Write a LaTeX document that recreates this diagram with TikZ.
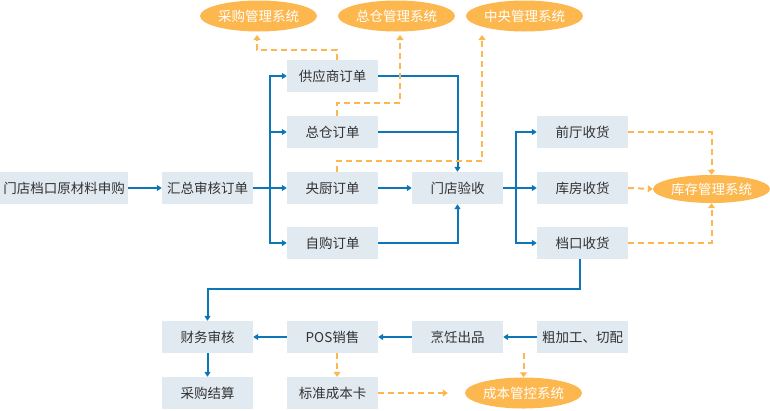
\documentclass[tikz,border=0pt]{standalone}
\usepackage{fontspec}
\newfontfamily\cjk{Noto Sans CJK SC}
\usetikzlibrary{arrows.meta,shapes.geometric}
\definecolor{boxc}{HTML}{E1E9F1}
\definecolor{blc}{HTML}{0B77B6}
\definecolor{orc}{HTML}{FDB74F}
\definecolor{txt}{HTML}{333333}
\begin{document}
\begin{tikzpicture}[x=1pt,y=-1pt,
  box/.style={fill=boxc, minimum width=91pt, minimum height=32pt, inner sep=0pt, text=txt, font=\cjk\fontsize{13.5}{14}\selectfont},
  sys/.style={ellipse, fill=orc, minimum width=117pt, minimum height=31pt, inner sep=0pt, text=white, font=\cjk\fontsize{13.5}{14}\selectfont},
  bl/.style={draw=blc, line width=2pt, -{Triangle[length=5pt,width=6pt]}},
  blline/.style={draw=blc, line width=2pt},
  od/.style={draw=orc, line width=2pt, dash pattern=on 6pt off 4pt, -{Triangle[length=5pt,width=7pt]}}]
\useasboundingbox (0,0) rectangle (770,410);
% boxes
\node[box, minimum width=128pt] (req) at (64,188) {门店档口原材料申购};
\node[box] (sum) at (207.5,188) {汇总审核订单};
\node[box] (gys) at (332.5,76) {供应商订单};
\node[box] (zc) at (332.5,132) {总仓订单};
\node[box] (yc) at (332.5,188) {央厨订单};
\node[box] (zg) at (332.5,243) {自购订单};
\node[box] (ys) at (457.5,188) {门店验收};
\node[box] (qt) at (582.5,132) {前厅收货};
\node[box] (kf) at (582.5,188) {库房收货};
\node[box] (dk) at (582.5,243) {档口收货};
\node[box] (cw) at (207.5,337) {财务审核};
\node[box] (pos) at (332.5,337) {POS销售};
\node[box] (pr) at (457.5,337) {烹饪出品};
\node[box] (cj) at (582.5,337) {粗加工、切配};
\node[box] (js) at (207.5,393) {采购结算};
\node[box] (bz) at (332.5,393) {标准成本卡};
% systems
\node[sys] (cg) at (258.5,16) {采购管理系统};
\node[sys] (zcs) at (396.5,16) {总仓管理系统};
\node[sys] (zy) at (524.5,16) {中央管理系统};
\node[sys, minimum height=28pt] (kc) at (711.5,189) {库存管理系统};
\node[sys] (cb) at (523.5,393) {成本管控系统};
\coordinate (cgin) at (257,35);
\coordinate (zcin) at (400,35);
\coordinate (zyin) at (482,35);
% blue connectors
\draw[bl] (req) -- (sum);
\draw[bl] (sum.east) -- ++(17,0) |- (gys.west);
\draw[bl] (sum.east) -- ++(17,0) |- (zc.west);
\draw[bl] (sum) -- (yc);
\draw[bl] (sum.east) -- ++(17,0) |- (zg.west);
\draw[bl] (gys.east) -| (ys.north);
\draw[blline] (zc.east) -- (zc.east -| ys.north);
\draw[bl] (yc) -- (ys);
\draw[bl] (zg.east) -| (ys.south);
\draw[bl] (ys.east) -- ++(13,0) |- (qt.west);
\draw[bl] (ys) -- (kf);
\draw[bl] (ys.east) -- ++(13,0) |- (dk.west);
\draw[bl] ([xshift=-2.5pt]dk.south) -- ++(0,30) -| (cw.north);
\draw[bl] (cw) -- (js);
\draw[bl] (pos) -- (cw);
\draw[bl] (pr) -- (pos);
\draw[bl] (cj) -- (pr);
% orange dashed connectors
\draw[od] (qt.east) -| (kc.north);
\draw[od] (kf.east) -- (kc.west);
\draw[od] (dk.east) -| (kc.south);
\draw[od] ([xshift=4.5pt]pos.south) -- ([xshift=4.5pt]bz.north);
\draw[od] (bz.east) -- ([xshift=-17pt]cb.west);
\draw[od] (cb.north |- pr.south) -- (cb.north);
\draw[od] ([xshift=4.5pt]gys.north) -- ++(0,-10) -| (cgin);
\draw[od] ([xshift=4.5pt]zc.north) -- ++(0,-13) -| (zcin);
\draw[od] ([xshift=4.5pt]yc.north) -- ++(0,-11) -| (zyin);
\end{tikzpicture}
\end{document}
